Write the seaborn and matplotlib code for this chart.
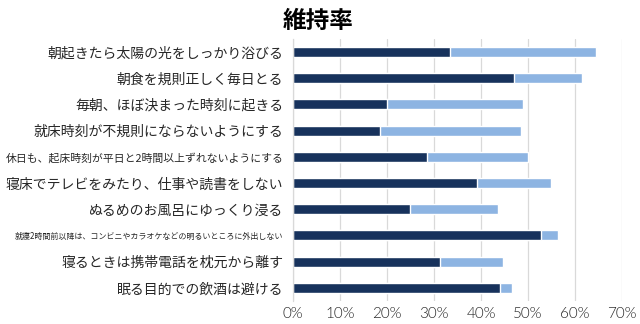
import matplotlib
matplotlib.use("Agg")
import matplotlib.pyplot as plt
import seaborn as sns
import pandas as pd
import numpy as np

categories = [
    "朝起きたら太陽の光をしっかり浴びる",
    "朝食を規則正しく毎日とる",
    "毎朝、ほぼ決まった時刻に起きる",
    "就床時刻が不規則にならないようにする",
    "休日も、起床時刻が平日と2時間以上ずれないようにする",
    "寝床でテレビをみたり、仕事や読書をしない",
    "ぬるめのお風呂にゆっくり浸る",
    "就寝2時間前以降は、コンビニやカラオケなどの明るいところに外出しない",
    "寝るときは携帯電話を枕元から離す",
    "眠る目的での飲酒は避ける",
]
dark_values = [33.3, 47.1, 20.0, 18.5, 28.4, 39.1, 24.8, 52.8, 31.3, 44.1]
light_values = [31.1, 14.3, 28.9, 30.0, 21.5, 15.7, 18.7, 3.5, 13.3, 2.5]
label_sizes = [10, 10, 10, 10, 7.8, 10, 10, 5.8, 10, 10]
x_ticks = [0, 10, 20, 30, 40, 50, 60, 70]

sns.set_theme(style="white")
plt.rcParams["font.family"] = ["Noto Sans CJK JP", "DejaVu Sans"]

df = pd.DataFrame({
    "cat": categories,
    "dark": dark_values,
    "total": [d + l for d, l in zip(dark_values, light_values)],
})

fig = plt.figure(figsize=(6.4, 3.24), dpi=100)
ax = fig.add_axes([0.458, 0.071, 0.514, 0.809])

sns.barplot(data=df, y="cat", x="total", color="#8DB4E2", saturation=1,
            width=0.38, orient="h", ax=ax)
sns.barplot(data=df, y="cat", x="dark", color="#17325C", saturation=1,
            width=0.38, orient="h", ax=ax)

ax.set_xlim(0, 70)
ax.set_ylim(len(categories) - 0.5, -0.5)
ax.set_xticks(x_ticks)
ax.set_xticklabels([f"{t}%" for t in x_ticks], family=["Lato", "DejaVu Sans"],
                   fontsize=11, fontweight=300, color="#262626")
ax.set_xlabel("")
ax.set_ylabel("")
ax.grid(axis="x", color="#D9D9D9", linewidth=0.9)
ax.set_axisbelow(True)
for s in ["top", "right", "bottom"]:
    ax.spines[s].set_visible(False)
ax.spines["left"].set_color("#D9D9D9")
ax.spines["left"].set_linewidth(0.9)

ax.set_yticks(range(len(categories)))
ax.set_yticklabels(categories)
for lbl, sz in zip(ax.get_yticklabels(), label_sizes):
    lbl.set_fontsize(sz)
    lbl.set_color("#262626")
ax.tick_params(axis="y", length=0, pad=7)
ax.tick_params(axis="x", length=0, pad=4)
ax.set_yticks(np.arange(-0.5, len(categories), 1), minor=True)
ax.tick_params(axis="y", which="minor", length=4, color="#D9D9D9", width=0.9)

fig.text(0.497, 0.935, "維持率", ha="center", va="center", fontsize=17,
         fontweight="bold", color="#000000")

fig.savefig("out.png", dpi=100)
